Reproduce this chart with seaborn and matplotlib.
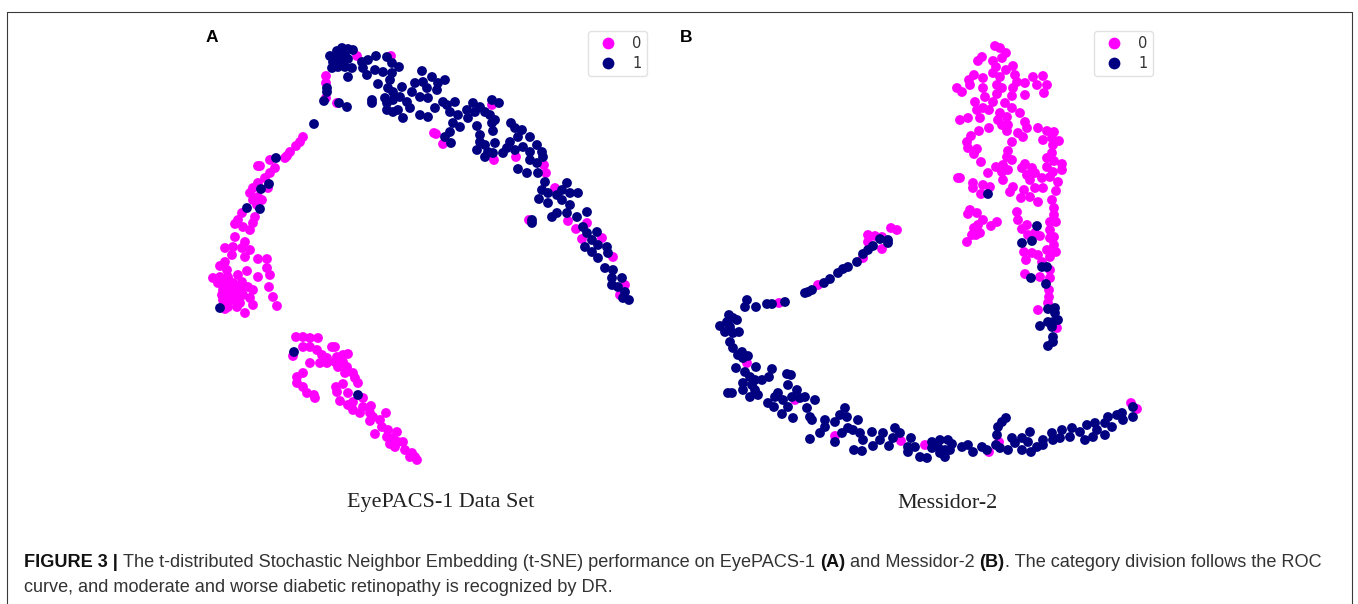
# tsne_panels.py
import pandas as pd
import numpy as np
import matplotlib
matplotlib.use("Agg")
import matplotlib.pyplot as plt
from matplotlib.lines import Line2D
import seaborn as sns

# points, (x, y) per class
a_class0 = [(303,137),(300,142),(296,146),(290,152),(287,156),(285,158),(270,160),(258,166),(260,166),(275,168),(270,173),(265,178),(258,183),(253,188),(268,188),(250,193),(258,197),(253,200),(262,200),(257,205),(242,213),(238,220),(235,224),(255,217),(253,223),(250,230),(243,227),(235,237),(245,242),(225,248),(233,247),(242,248),(250,250),(232,255),(245,257),(225,262),(220,266),(227,270),(258,259),(267,259),(267,268),(270,275),(258,277),(247,271),(269,287),(273,297),(277,306),
    (213,278),(218,283),(228,277),(238,275),(233,283),(242,282),(223,290),(232,292),(248,287),(253,290),(243,295),(223,300),(233,300),(240,303),(250,298),(253,305),(228,307),(245,313),(237,307),(225,309),(222,295),(228,287),(238,288),(243,287),(230,298),(220,277),(225,283),(228,295),(236,295),(225,304),
    (296,337),(303,337),(310,338),(318,338),(332,347),(335,347),(303,347),(310,347),(317,350),(322,355),(293,356),(310,363),(320,363),(327,358),(327,363),(337,357),(343,355),(348,354),(335,362),(343,362),(338,367),(347,367),(345,373),(353,373),(355,378),(358,383),(343,384),(336,387),(337,392),(348,393),(297,377),(303,373),(297,383),(303,387),(307,393),(314,395),(315,398),(340,401),(348,405),(353,402),(363,398),(353,410),(360,413),(363,407),(371,406),(370,413),(373,417),(370,421),(386,413),(380,420),(382,427),(375,434),(388,430),(387,437),(397,432),(393,438),(390,444),(398,442),(403,442),(395,447),(405,450),(412,453),(410,457),(417,460),(415,457),
    (357,56),(391,56),(326,76),(326,83),(326,98),(337,103),(434,133),(436,134),(443,144),(494,160),(516,157),(546,173),(544,165),(492,105),(529,220),(568,221),(576,229),(587,223),(582,239),(602,238),(613,257),(620,295),(625,285),(555,188)]
a_class1 = [(330,56),(337,51),(342,48),(348,49),(353,50),(338,55),(345,55),(333,62),(340,62),(348,59),(332,68),(338,67),(345,67),(352,68),(348,77),(327,88),(327,92),(324,101),(339,103),(347,107),(314,124),
    (362,62),(368,60),(376,56),(387,57),(392,63),(399,67),(363,68),(367,75),(375,70),(383,72),(392,73),(390,80),(378,84),(388,88),(402,87),(393,92),(385,98),(372,100),(372,103),(387,103),(393,100),(400,97),(407,102),(412,92),(415,83),(422,71),(423,82),(432,77),(427,88),(438,83),(445,80),(437,90),(420,97),(428,98),(435,108),(410,108),(398,110),(387,110),(393,112),(403,118),(420,115),(428,117),(443,102),(447,105),(455,102),(450,112),(458,115),(467,110),(473,103),(468,118),(480,107),(475,112),(485,112),(492,100),(499,103),(490,115),(495,120),(492,123),(453,123),(460,127),(477,126),(493,131),(450,132),(445,137),(451,143),(480,135),(480,142),(485,145),(477,150),(495,143),(488,152),(485,157),(493,153),
    (511,123),(515,128),(522,130),(518,137),(510,142),(530,137),(523,147),(507,148),(503,153),(515,150),(537,145),(530,152),(542,152),(543,157),(530,160),(537,163),(518,169),(527,173),(538,173),
    (545,182),(542,190),(548,193),(557,195),(567,183),(562,190),(570,193),(578,193),(539,199),(548,203),(562,200),(570,205),(552,217),(557,213),(567,213),(577,217),(587,212),(532,220),(532,223),
    (583,227),(587,233),(597,232),(592,240),(585,247),(598,245),(607,247),(592,252),(598,258),(608,253),(605,268),(613,270),(612,278),(622,278),(612,285),(618,287),(625,292),(629,300),(623,298),
    (276,158),(269,184),(261,189),(247,208),(260,209),(220,308),(294,352),(358,395)]
b_class0 = [(995,46),(1000,48),(1006,53),(1002,58),(982,57),(978,61),(993,61),(996,67),(1013,66),(1006,70),(993,73),(1000,77),(1015,75),(974,75),(969,80),(983,78),(957,88),(962,92),(970,85),(983,88),(985,97),(997,85),(1002,88),(1017,82),(1025,83),(1013,88),(1033,77),(1043,76),(1037,85),(1047,85),(1044,93),(1025,95),(1012,96),(997,94),(993,102),(975,102),(1005,103),(1012,108),(1020,113),(977,110),(983,108),(989,110),(980,118),(960,120),(968,118),(1000,113),(1007,117),(998,120),(1002,125),(1008,125),(1007,131),(1025,122),(1027,128),(1018,133),(1023,137),(989,128),(979,131),(971,136),(967,142),(968,148),(977,149),(974,154),(981,162),(988,173),
    (1012,142),(1008,151),(1007,157),(1012,160),(1003,165),(996,167),(1002,172),(1008,170),(1003,180),(1013,187),(1010,192),
    (1038,128),(1047,131),(1054,132),(1043,140),(1052,138),(1059,141),(1053,145),(1052,153),(1047,158),(1054,161),(1062,164),(1062,170),(1047,167),(1053,172),(1050,177),(1058,182),
    (1025,164),(1022,168),(1032,168),(1027,175),(1035,173),(1042,178),(1030,180),(1043,188),(1035,188),(1024,190),(1021,198),(1030,197),(1038,202),
    (1056,191),(1052,200),(1054,208),(1054,215),(1050,222),(1056,222),(1050,230),(1054,237),(1050,238),(1054,245),(1056,252),(1047,250),(1050,257),
    (958,178),(960,178),(973,183),(973,188),(983,185),(981,194),(990,187),
    (970,210),(968,214),(977,213),(983,220),(978,225),(974,228),(980,233),(972,235),(967,242),(976,235),(991,226),(997,222),
    (1017,212),(1018,220),(1027,225),(1022,229),(1035,233),(1040,236),(1028,235),
    (1024,252),(1032,253),(1038,255),(1026,260),(1042,262),(1025,274),(1040,277),(1050,270),(1050,278),(1049,290),(1049,297),(1048,303),(1038,310),(1057,328),
    (891,228),(897,230),(868,235),(875,236),(882,237),(868,242),(882,249),(863,258),(818,285),(779,303),(747,363),(795,400),(835,436),(901,441),(925,445),(989,452),(999,442),(1131,403),(1137,409)]
b_class1 = [(988,194),(1037,226),(1032,241),(1022,243),(1042,267),(1047,267),(1031,278),(1046,284),(1048,309),(1055,308),(1055,313),(1058,320),(1048,322),(1053,322),(1040,326),(1052,327),(1053,337),(1053,342),(1048,346),
    (888,240),(880,239),(888,243),(873,246),(868,250),(863,254),(857,262),(848,267),(843,269),(838,273),(830,279),(824,283),(812,290),(808,292),(805,293),(785,302),(772,304),(767,304),(756,307),(747,300),(745,307),
    (729,315),(733,318),(737,320),(727,322),(720,326),(730,327),(725,332),(739,332),(733,333),(730,342),(733,348),(742,352),(738,355),(748,356),(743,358),
    (736,368),(756,367),(745,372),(750,377),(772,369),(769,377),(762,380),(755,380),(743,383),(752,385),(787,374),(791,375),(743,390),(732,393),(728,393),(750,397),(758,395),(755,390),(788,385),(797,390),(778,393),(775,397),(768,403),(774,407),(783,400),(792,397),(800,398),(805,397),(815,400),(788,407),(807,408),(782,414),(793,418),(810,417),(812,420),
    (825,420),(845,408),(840,415),(847,417),(835,422),(858,420),(825,427),(820,433),(810,439),(835,442),(842,433),(848,428),(853,430),(860,433),(872,432),(883,433),(863,440),(880,440),(873,446),(854,450),(862,451),(895,428),(900,433),(893,438),(889,446),(911,438),(908,447),(915,447),(908,452),(920,457),(927,458),
    (932,442),(940,440),(932,448),(938,447),(948,440),(952,444),(945,450),(950,450),(945,457),(940,453),(962,447),(968,445),(973,452),(982,447),(987,450),
    (1006,418),(1002,422),(998,427),(997,435),(996,445),(1000,448),(1008,450),(1012,438),(1015,443),(1022,438),(1022,450),(1030,432),(1028,442),(1031,452),(1037,447),(1043,440),(1043,445),(1052,433),(1053,440),(1062,430),(1060,438),(1072,428),(1070,437),(1080,432),(1087,425),(1085,440),(1093,437),(1095,423),(1097,430),(1105,435),(1108,417),(1105,423),(1112,427),(1117,415),(1122,413),(1123,420),(1133,417),(1133,407)]
panel_letters = ['A', 'B']
panel_titles = ['EyePACS-1 Data Set', 'Messidor-2']
caption_line1 = [('FIGURE 3 | ', 'bold'), ('The t-distributed Stochastic Neighbor Embedding (t-SNE) performance on EyePACS-1 ', 'normal'),
                 ('(A)', 'bold'), (' and Messidor-2 ', 'normal'), ('(B)', 'bold'),
                 ('. The category division follows the ROC', 'normal')]
caption_line2 = 'curve, and moderate and worse diabetic retinopathy is recognized by DR.'

W, H = 1358, 604


def make_df(zero, one):
    rows = [(x, y, '0') for x, y in zero] + [(x, y, '1') for x, y in one]
    return pd.DataFrame(rows, columns=['x', 'y', 'label'])


def scatter_panel(box, df, legend_xy):
    x0, y0, x1, y1 = box
    ax = fig.add_axes([x0 / W, 1 - y1 / H, (x1 - x0) / W, (y1 - y0) / H])
    sns.scatterplot(data=df, x='x', y='y', hue='label', palette={'0': '#ff00ff', '1': '#000080'},
                    s=50, linewidth=0, ax=ax)
    ax.set_xlim(x0, x1)
    ax.set_ylim(y1, y0)
    ax.axis('off')
    leg = ax.legend(loc='upper left', bbox_to_anchor=(legend_xy[0] / W, 1 - legend_xy[1] / H),
                    bbox_transform=fig.transFigure, fontsize=10.5, frameon=True, framealpha=1,
                    edgecolor='#e2e2e2', handletextpad=0.7, borderpad=0.35, labelspacing=0.32,
                    borderaxespad=0, markerscale=1.2, title=None)
    for t in leg.get_texts():
        t.set_color('#333333')
    return ax


sns.set_theme(style='white')
fig = plt.figure(figsize=(W / 100, H / 100), dpi=100, facecolor='white')

scatter_panel((190, 20, 660, 480), make_df(a_class0, a_class1), (588, 31))
scatter_panel((680, 20, 1160, 480), make_df(b_class0, b_class1), (1094, 31))

# outer frame, open at the bottom
frame_col = '#3a3a3a'
fig.add_artist(Line2D([6.5 / W, 6.5 / W], [0, 1 - 11.5 / H], color=frame_col, lw=0.8))
fig.add_artist(Line2D([6.5 / W, 1351.5 / W], [1 - 11.5 / H, 1 - 11.5 / H], color=frame_col, lw=0.8))
fig.add_artist(Line2D([1351.5 / W, 1351.5 / W], [0, 1 - 11.5 / H], color=frame_col, lw=0.8))

for letter, px in zip(panel_letters, [206, 680]):
    fig.text(px / W, 1 - 37 / H, letter, fontsize=12.5, fontweight='bold', family='Liberation Sans',
             color='black', va='center')
for title, px in zip(panel_titles, [441, 947]):
    fig.text(px / W, 1 - 503 / H, title, fontsize=15.9, family='Liberation Serif', color='#222222',
             ha='center', va='center')

# caption has bold and normal runs, so place them one after another
renderer = fig.canvas.get_renderer()
cur = 24.0
cap_size = 13.05
for part, weight in caption_line1:
    col = '#111111' if weight == 'bold' else '#333333'
    t = fig.text(cur / W, 1 - 562 / H, part, fontsize=cap_size, fontweight=weight, family='Liberation Sans',
                 color=col, va='baseline')
    # trailing spaces are not counted by the extent, so measure with a guard char
    probe = fig.text(0, 0, part + '.', fontsize=cap_size, fontweight=weight, family='Liberation Sans')
    dot = fig.text(0, 0, '.', fontsize=cap_size, fontweight=weight, family='Liberation Sans')
    cur += probe.get_window_extent(renderer).width - dot.get_window_extent(renderer).width
    probe.remove()
    dot.remove()
    t.set_y(1 - 567 / H)
fig.text(24 / W, 1 - 592 / H, caption_line2, fontsize=cap_size, family='Liberation Sans', color='#333333', va='baseline')

plt.savefig('out.png', dpi=100)
